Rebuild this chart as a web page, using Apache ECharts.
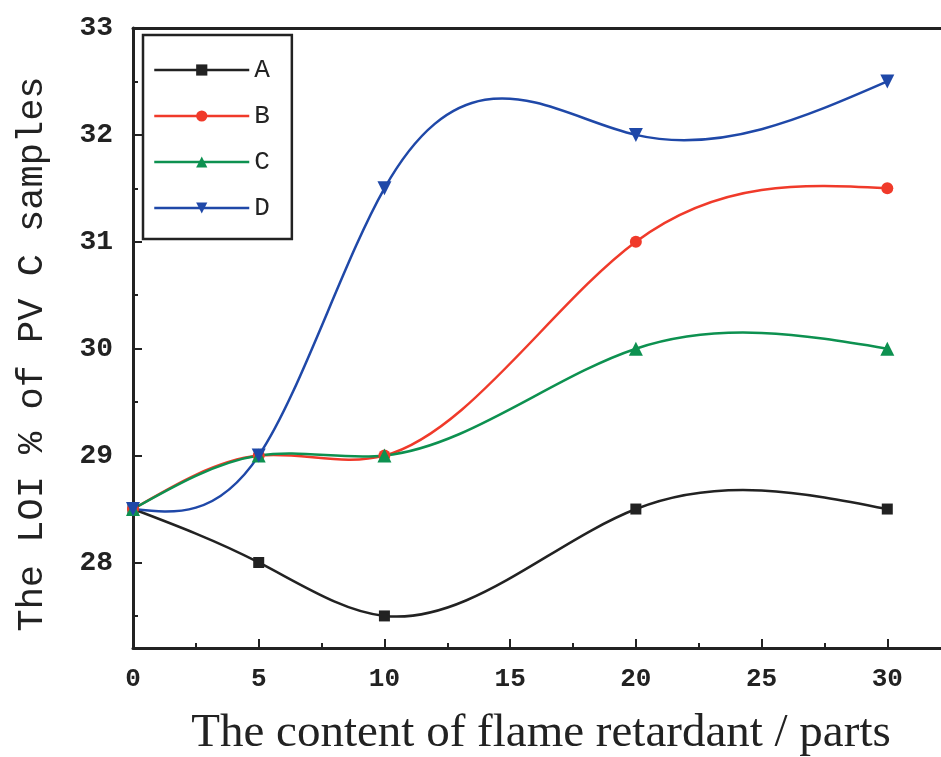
<!DOCTYPE html>
<html>
<head>
<meta charset="utf-8">
<script src="https://cdn.jsdelivr.net/npm/echarts@6/dist/echarts.min.js"></script>
<style>html,body{margin:0;padding:0;background:#fff;}#c{width:941px;height:757px;}</style>
</head>
<body>
<div id="c"></div>
<script>
const xValues = [0, 5, 10, 20, 30];
const seriesA = [28.5, 28.0, 27.5, 28.5, 28.5];
const seriesB = [28.5, 29.0, 29.0, 31.0, 31.5];
const seriesC = [28.5, 29.0, 29.0, 30.0, 30.0];
const seriesD = [28.5, 29.0, 31.5, 32.0, 32.5];
const names = ['A', 'B', 'C', 'D'];
const xTitle = 'The content of flame retardant / parts';
const yTitle = 'The LOI % of PV C samples';

const colors = ['#222222', '#f03a2a', '#0d9150', '#1f48a8'];
const symbols = ['rect', 'circle', 'triangle', 'path://M0,0 L10,0 L5,10 Z'];
const sizes = [11, 12, 14, 14];
const all = [seriesA, seriesB, seriesC, seriesD];

// Natural cubic spline second derivatives (data space)
function splineM(xs, ys) {
  const n = xs.length;
  const h = [], a = [], b = [], c = [], d = [];
  for (let i = 0; i < n - 1; i++) h.push(xs[i + 1] - xs[i]);
  const M = new Array(n).fill(0);
  const m = n - 2;
  for (let i = 1; i < n - 1; i++) {
    a.push(h[i - 1]); b.push(2 * (h[i - 1] + h[i])); c.push(h[i]);
    d.push(6 * ((ys[i + 1] - ys[i]) / h[i] - (ys[i] - ys[i - 1]) / h[i - 1]));
  }
  for (let i = 1; i < m; i++) {
    const w = a[i] / b[i - 1];
    b[i] -= w * c[i - 1]; d[i] -= w * d[i - 1];
  }
  const sol = new Array(m);
  sol[m - 1] = d[m - 1] / b[m - 1];
  for (let i = m - 2; i >= 0; i--) sol[i] = (d[i] - c[i] * sol[i + 1]) / b[i];
  for (let i = 0; i < m; i++) M[i + 1] = sol[i];
  return M;
}

function makeCurveSeries(idx) {
  const ys = all[idx];
  const M = splineM(xValues, ys);
  return {
    name: names[idx],
    type: 'custom',
    data: xValues.map((x, j) => [x, ys[j]]),
    z: 2 + idx,
    silent: true,
    renderItem: function (params, api) {
      if (params.dataIndex !== 0) return null;
      let path = '';
      for (let i = 0; i < xValues.length - 1; i++) {
        const x0 = xValues[i], x1 = xValues[i + 1], y0 = ys[i], y1 = ys[i + 1];
        const h = x1 - x0;
        const s0 = (y1 - y0) / h - h * (2 * M[i] + M[i + 1]) / 6;
        const s1 = (y1 - y0) / h + h * (M[i] + 2 * M[i + 1]) / 6;
        const p0 = api.coord([x0, y0]);
        const c1 = api.coord([x0 + h / 3, y0 + s0 * h / 3]);
        const c2 = api.coord([x1 - h / 3, y1 - s1 * h / 3]);
        const p1 = api.coord([x1, y1]);
        if (i === 0) path += 'M' + p0[0] + ' ' + p0[1];
        path += ' C' + c1[0] + ' ' + c1[1] + ' ' + c2[0] + ' ' + c2[1] + ' ' + p1[0] + ' ' + p1[1];
      }
      return {
        type: 'path',
        shape: { pathData: path },
        style: { fill: null, stroke: colors[idx], lineWidth: 2.5 }
      };
    }
  };
}

const chart = echarts.init(document.getElementById('c'));
const monoFont = '"Liberation Mono", "DejaVu Sans Mono", monospace';
const serifFont = '"Liberation Serif", "DejaVu Serif", serif';

const markerSeries = all.map((arr, i) => ({
  name: names[i],
  type: 'line',
  data: xValues.map((x, j) => [x, arr[j]]),
  symbol: symbols[i],
  symbolSize: sizes[i],
  showAllSymbol: true,
  lineStyle: { color: colors[i], width: 2.5, opacity: 0 },
  itemStyle: { color: colors[i] },
  z: 10 + i
}));

chart.setOption({
  backgroundColor: '#ffffff',
  animation: false,
  grid: { left: 133, width: 880, top: 28, bottom: 109, containLabel: false, outerBoundsMode: 'none' },
  legend: {
    orient: 'vertical',
    left: 143, top: 35,
    padding: [22, 22, 18, 10],
    borderColor: '#222', borderWidth: 2.5,
    itemWidth: 95, itemHeight: 14, itemGap: 20,
    textStyle: { fontFamily: monoFont, fontSize: 26, color: '#222', lineHeight: 24 },
    data: names.map((n, i) => ({
      name: n,
      lineStyle: { color: colors[i], width: 2.5, opacity: 1 }
    }))
  },
  xAxis: [{
    type: 'value', min: 0, max: 35, interval: 5,
    position: 'bottom',
    name: xTitle, nameLocation: 'middle', nameGap: 62,
    nameTextStyle: { fontFamily: serifFont, fontSize: 47, color: '#222', padding: [0, 64, 0, 0] },
    axisLine: { show: true, lineStyle: { color: '#222', width: 3 } },
    axisTick: { show: true, inside: true, length: 9, lineStyle: { color: '#222', width: 2 } },
    minorTick: { show: true, splitNumber: 2, length: 5, lineStyle: { color: '#222', width: 2 } },
    axisLabel: { fontFamily: monoFont, fontSize: 26, fontWeight: 'bold', color: '#222', margin: 18,
      formatter: v => v <= 30 ? String(v) : '' },
    splitLine: { show: false }
  }, {
    type: 'value', min: 0, max: 35, position: 'top',
    axisLine: { show: true, lineStyle: { color: '#222', width: 3 } },
    axisTick: { show: false }, axisLabel: { show: false }, splitLine: { show: false }
  }],
  yAxis: {
    type: 'value', min: 27.2, max: 33, splitNumber: 5,
    name: yTitle, nameLocation: 'middle', nameGap: 82,
    nameTextStyle: { fontFamily: monoFont, fontSize: 37, color: '#222', padding: [0, 32, 0, 0] },
    axisLine: { show: true, lineStyle: { color: '#222', width: 3 } },
    axisTick: { show: true, inside: true, length: 9, lineStyle: { color: '#222', width: 2 } },
    minorTick: { show: true, splitNumber: 2, length: 5, lineStyle: { color: '#222', width: 2 } },
    axisLabel: {
      fontFamily: monoFont, fontSize: 28, fontWeight: 'bold', color: '#222', margin: 20,
      formatter: v => (Math.abs(v - Math.round(v)) < 1e-6 && v < 33.01 && v > 27.5) ? String(Math.round(v)) : ''
    },
    splitLine: { show: false }
  },
  series: markerSeries.concat(all.map((a, i) => makeCurveSeries(i)))
});
</script>
</body>
</html>
